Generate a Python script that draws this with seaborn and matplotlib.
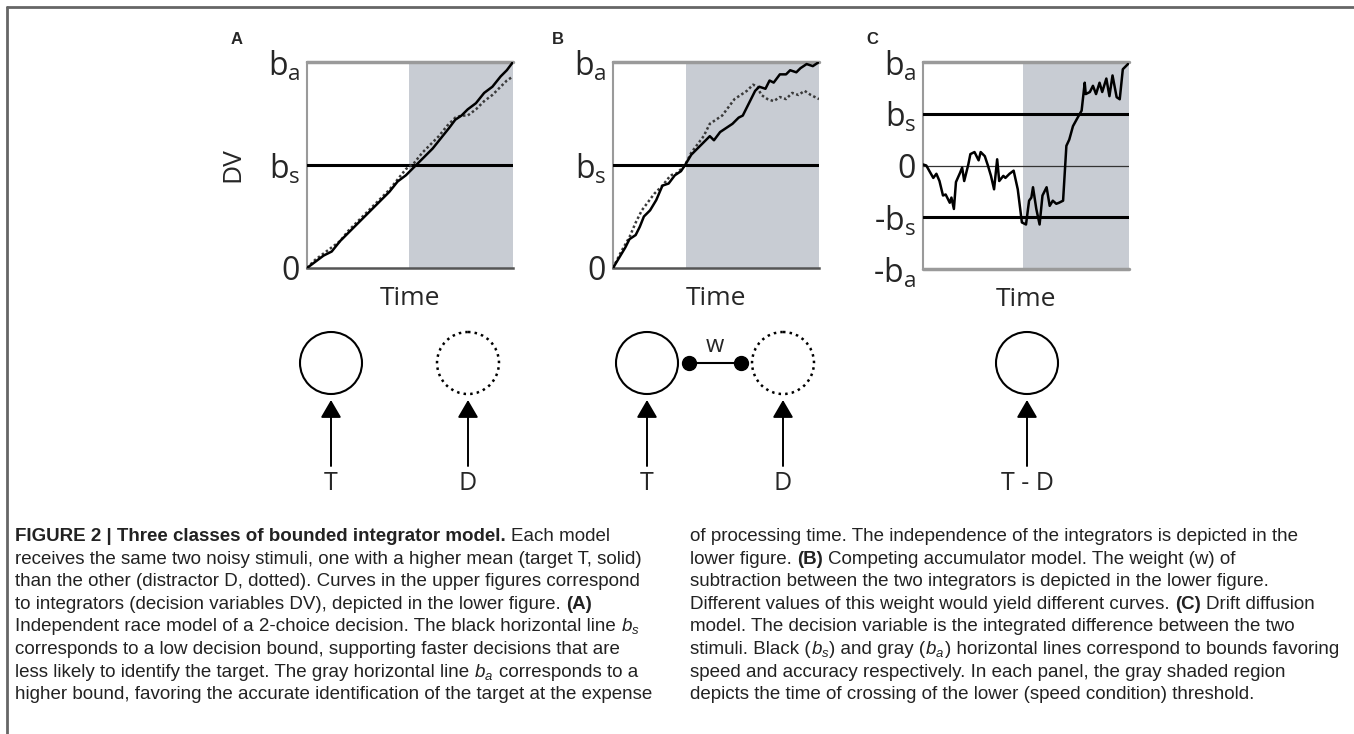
import matplotlib
matplotlib.use("Agg")
import matplotlib.pyplot as plt
from matplotlib.patches import Circle
import numpy as np
import pandas as pd
import seaborn as sns

# ---- traces (time 0..1, DV as fraction of b_a) ----
a_t_time = [0, .04, .08, .12, .16, .20, .24, .28, .32, .36, .40, .44, .48, .50, .53, .57,
            .61, .65, .69, .72, .75, .78, .82, .86, .90, .94, .97, 1.0]
a_t_dv = [0, .03, .06, .08, .13, .17, .21, .25, .29, .33, .37, .42, .45, .47, .50, .54,
          .58, .63, .68, .72, .74, .77, .80, .85, .88, .93, .96, 1.0]
a_d_time = [0, .04, .08, .12, .16, .20, .24, .28, .32, .36, .40, .44, .48, .52, .56, .60,
            .64, .68, .72, .75, .78, .82, .86, .90, .94, .97, 1.0]
a_d_dv = [0, .04, .07, .10, .13, .18, .22, .26, .30, .34, .38, .43, .48, .51, .56, .60,
          .64, .69, .73, .74, .74, .77, .81, .84, .88, .91, .93]

b_t_time = [0, .03, .06, .08, .11, .13, .15, .18, .21, .24, .27, .30, .33, .35, .38, .41,
            .44, .47, .49, .52, .55, .58, .61, .63, .66, .69, .71, .74, .76, .78, .81, .84,
            .86, .89, .91, .94, .97, 1.0]
b_t_dv = [0, .05, .10, .14, .16, .20, .25, .28, .33, .40, .41, .45, .47, .50, .55, .58,
          .61, .64, .62, .66, .68, .70, .73, .74, .80, .86, .88, .87, .91, .90, .94, .94,
          .96, .95, .97, .99, .98, 1.0]
b_d_time = [0, .04, .08, .11, .14, .17, .20, .24, .28, .31, .35, .38, .41, .44, .47, .50,
            .53, .56, .59, .62, .65, .68, .70, .72, .75, .78, .81, .84, .87, .90, .93, .96, 1.0]
b_d_dv = [0, .08, .15, .22, .28, .32, .36, .40, .45, .46, .50, .56, .60, .64, .70, .72,
          .74, .78, .82, .84, .86, .89, .88, .84, .82, .81, .83, .82, .85, .84, .86, .84, .82]

c_time = [0, .016, .03, .05, .065, .08, .097, .11, .13, .138, .15, .16, .18, .19, .20, .22,
          .23, .25, .27, .28, .30, .315, .33, .345, .36, .37, .39, .40, .42, .44, .46, .48,
          .50, .515, .526, .534, .55, .566, .58, .60, .615, .63, .647, .66, .68, .696, .71,
          .728, .75, .77, .785, .79, .81, .825, .84, .857, .87, .89, .905, .92, .94, .955,
          .97, .995]
c_dv = [.01, 0, -.05, -.12, -.08, -.15, -.29, -.28, -.36, -.31, -.42, -.16, -.07, -.02, -.15, .01,
        .11, .13, .05, .13, .09, 0, -.10, -.23, .06, -.15, -.10, -.12, -.08, -.05, -.23, -.55,
        -.57, -.34, -.31, -.21, -.42, -.57, -.29, -.21, -.39, -.34, -.37, -.36, -.34, .19, .25,
        .38, .46, .53, .80, .69, .71, .77, .69, .80, .71, .84, .67, .87, .66, .64,
        .93, .98]

shade_start = {"A": 0.495, "B": 0.354, "C": 0.485}

W, H = 1354, 734
sns.set_style("white")
plt.rcParams["font.family"] = ["Open Sans", "DejaVu Sans"]
plt.rcParams["mathtext.fontset"] = "custom"
plt.rcParams["mathtext.rm"] = "Open Sans"
plt.rcParams["mathtext.it"] = "Liberation Sans:italic"
plt.rcParams["mathtext.bf"] = "Liberation Sans:bold"

fig = plt.figure(figsize=(W / 100, H / 100), dpi=100)

# overlay in pixel coordinates for the diagrams and caption
ov = fig.add_axes([0, 0, 1, 1])
ov.set_xlim(0, W)
ov.set_ylim(H, 0)
ov.axis("off")

SHADE = "#c8ccd3"
GRAY = "#9a9a9a"
TICK_FS = 23


def panel_axes(left, top, bottom, width):
    return fig.add_axes([left / W, (H - bottom) / H, width / W, (bottom - top) / H])


def style_panel(ax, ticks, labels, lo, start):
    ax.set_xlim(0, 1)
    ax.set_ylim(lo, 1)
    ax.axvspan(start, 1, color=SHADE, lw=0, zorder=0)
    ax.set_yticks(ticks)
    ax.set_yticklabels(labels, fontsize=TICK_FS)
    ax.set_xticks([])
    ax.tick_params(axis="y", length=0, pad=5)
    for s in ["top", "right"]:
        ax.spines[s].set_visible(False)
    ax.spines["left"].set_color(GRAY)
    ax.spines["left"].set_linewidth(1.5)
    ax.axhline(1, color=GRAY, lw=2.5, clip_on=False, zorder=3)
    ax.set_xlabel("Time", fontsize=19)
    ax.xaxis.set_label_coords(0.5, -0.085)
    ax.set_ylabel("")


def race_df(t_time, t_dv, d_time, d_dv):
    return pd.concat([
        pd.DataFrame({"time": d_time, "dv": d_dv, "stimulus": "D"}),
        pd.DataFrame({"time": t_time, "dv": t_dv, "stimulus": "T"}),
    ], ignore_index=True)


lab_ab = ["0", r"$\mathregular{b_s}$", r"$\mathregular{b_a}$"]

for name, left, data in [("A", 307, (a_t_time, a_t_dv, a_d_time, a_d_dv)),
                         ("B", 613, (b_t_time, b_t_dv, b_d_time, b_d_dv))]:
    ax = panel_axes(left, 62, 268, 206)
    df = race_df(*data)
    sns.lineplot(data=df, x="time", y="dv", hue="stimulus", style="stimulus",
                 hue_order=["D", "T"], style_order=["D", "T"],
                 palette={"T": "black", "D": "#3a3a3a"},
                 dashes={"T": "", "D": (1, 1)}, estimator=None, sort=False,
                 legend=False, lw=1.8, ax=ax, zorder=4)
    style_panel(ax, [0, 0.5, 1], lab_ab, 0, shade_start[name])
    ax.spines["bottom"].set_color("#555555")
    ax.spines["bottom"].set_linewidth(1.8)
    ax.axhline(0.5, color="black", lw=2.2, zorder=3)
    if name == "A":
        ax.set_ylabel("DV", fontsize=19, rotation=90)
        ax.yaxis.set_label_coords(-0.30, 0.5)

axc = panel_axes(923, 62, 269, 206)
sns.lineplot(x=c_time, y=c_dv, color="black", lw=1.8, estimator=None, sort=False,
             ax=axc, zorder=4)
style_panel(axc, [-1, -0.5, 0, 0.5, 1],
            [r"-$\mathregular{b_a}$", r"-$\mathregular{b_s}$", "0",
             r"$\mathregular{b_s}$", r"$\mathregular{b_a}$"], -1, shade_start["C"])
axc.spines["bottom"].set_visible(False)
axc.axhline(-1, color=GRAY, lw=2.5, clip_on=False, zorder=3)
axc.axhline(0.5, color="black", lw=2.2, zorder=3)
axc.axhline(-0.5, color="black", lw=2.2, zorder=3)
axc.axhline(0, color="#333333", lw=0.9, zorder=3)

# panel letters
for letter, x, y in [("A", 237, 40), ("B", 558, 40), ("C", 872, 40)]:
    ov.text(x, y, letter, fontsize=12, fontweight="bold", family="Liberation Sans",
            ha="center", va="center")

# ---- lower diagrams ----
CY, R = 363, 31
nodes = [(331, "T", "-"), (468, "D", ":"), (647, "T", "-"), (783, "D", ":"), (1027, "T - D", "-")]
for x, lab, ls in nodes:
    ov.add_patch(Circle((x, CY), R, fill=False, ec="black",
                        lw=1.5 if ls == "-" else 1.8, ls=ls))
    ov.annotate("", xy=(x, 400), xytext=(x, 466),
                arrowprops=dict(arrowstyle="-|>,head_length=0.6,head_width=0.35",
                                mutation_scale=18, lw=1.4, color="black",
                                shrinkA=0, shrinkB=0))
    ov.text(x, 483, lab, fontsize=18, ha="center", va="center")

ov.plot([689, 741], [CY, CY], color="black", lw=1.5)
ov.plot([689, 741], [CY, CY], ls="none", marker="o", ms=10, color="black")
ov.text(715, 346, "w", fontsize=17, ha="center", va="center")

# outer frame (top and left)
ov.plot([7, W], [7, 7], color="#666666", lw=2, clip_on=False)
ov.plot([7, 7], [7, H], color="#666666", lw=2, clip_on=False)

# ---- caption ----
N, B = "normal", "bold"
left_lines = [
    [("FIGURE 2 | Three classes of bounded integrator model.", B), (" Each model", N)],
    [("receives the same two noisy stimuli, one with a higher mean (target T, solid)", N)],
    [("than the other (distractor D, dotted). Curves in the upper figures correspond", N)],
    [("to integrators (decision variables DV), depicted in the lower figure. ", N), ("(A)", B)],
    [("Independent race model of a 2-choice decision. The black horizontal line ", N), (r"$b_s$", N)],
    [("corresponds to a low decision bound, supporting faster decisions that are", N)],
    [("less likely to identify the target. The gray horizontal line ", N), (r"$b_a$", N),
     (" corresponds to a", N)],
    [("higher bound, favoring the accurate identification of the target at the expense", N)],
]
right_lines = [
    [("of processing time. The independence of the integrators is depicted in the", N)],
    [("lower figure. ", N), ("(B)", B), (" Competing accumulator model. The weight (w) of", N)],
    [("subtraction between the two integrators is depicted in the lower figure.", N)],
    [("Different values of this weight would yield different curves. ", N), ("(C)", B),
     (" Drift diffusion", N)],
    [("model. The decision variable is the integrated difference between the two", N)],
    [("stimuli. Black (", N), (r"$b_s$", N), (") and gray (", N), (r"$b_a$", N),
     (") horizontal lines correspond to bounds favoring", N)],
    [("speed and accuracy respectively. In each panel, the gray shaded region", N)],
    [("depicts the time of crossing of the lower (speed condition) threshold.", N)],
]

renderer = fig.canvas.get_renderer()
CAP_FAM = "Liberation Sans"


def seg_width(segs, fs):
    t = ov.text(0, 0, "".join(s for s, _ in segs), fontsize=fs, family=CAP_FAM)
    w = t.get_window_extent(renderer).width
    t.remove()
    return w


# caption size chosen so the widest line of each column fits its measured span
cap_fs = min(12 * 652 / seg_width(left_lines[7], 12),
             12 * 648 / seg_width(right_lines[5], 12))


def text_width(s, fs):
    t = ov.text(0, 0, s, fontsize=fs, family=CAP_FAM)
    w = t.get_window_extent(renderer).width
    t.remove()
    return w


space_w = text_width("a a", cap_fs) - text_width("aa", cap_fs)


def draw_line(x, y, segs):
    for s, weight in segs:
        if s.startswith(" "):
            x += space_w
        core = s.strip()
        t = ov.text(x, y, core, fontsize=cap_fs, fontweight=weight, family=CAP_FAM,
                    ha="left", va="baseline", color="#222222")
        x += t.get_window_extent(renderer).width
        if s.endswith(" "):
            x += space_w


for i, segs in enumerate(left_lines):
    draw_line(15, 541 + 22.6 * i, segs)
for i, segs in enumerate(right_lines):
    draw_line(690, 541 + 22.6 * i, segs)

fig.savefig("out.png", dpi=100)
